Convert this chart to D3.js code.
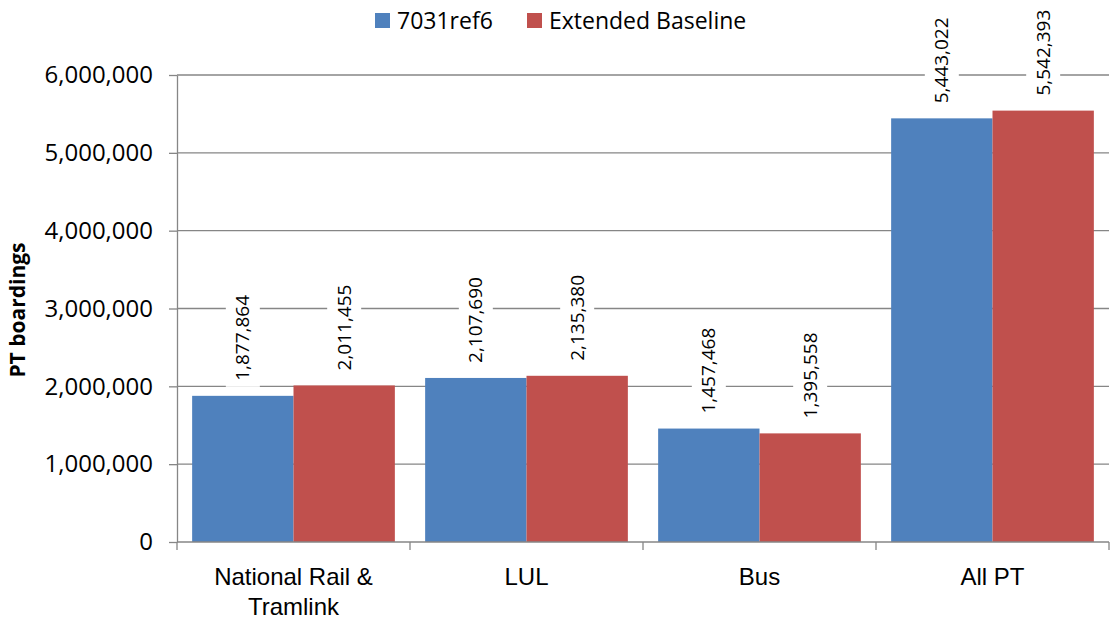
<!DOCTYPE html>
<html><head><meta charset="utf-8">
<script src="https://cdn.jsdelivr.net/npm/d3@7"></script>
<style>body{margin:0;background:#fff}svg{display:block;font-family:"Open Sans",sans-serif}</style>
</head><body><svg id="c" width="1111" height="622"></svg>
<script>
const categories = ["National Rail & Tramlink", "LUL", "Bus", "All PT"];
const categoryLines = [["National Rail &", "Tramlink"], ["LUL"], ["Bus"], ["All PT"]];
const seriesNames = ["7031ref6", "Extended Baseline"];
const ref6 = [1877864, 2107690, 1457468, 5443022];
const baseline = [2011455, 2135380, 1395558, 5542393];
const yTicks = [0, 1000000, 2000000, 3000000, 4000000, 5000000, 6000000];
const colors = ["#4F81BD", "#C0504D"];

const svg = d3.select("#c");
const L = 177, R = 1109, T = 75, B = 542;
const x = d3.scaleBand().domain(categories).range([L, R]).paddingInner(0.13).paddingOuter(0.065);
const x1 = d3.scaleBand().domain(seriesNames).range([0, x.bandwidth()]);
const y = d3.scaleLinear().domain([0, 6000000]).range([B, T]);
const fmt = d3.format(",");
const grid = "#868686";

// gridlines
svg.append("g").selectAll("line").data(yTicks.slice(1)).join("line")
  .attr("x1", L).attr("x2", R).attr("y1", d => y(d)).attr("y2", d => y(d))
  .attr("stroke", grid).attr("stroke-width", 1.3);

// bars
const series = [ref6, baseline];
const g = svg.append("g");
series.forEach((vals, si) => {
  g.selectAll(null).data(categories).join("rect")
    .attr("x", c => x(c) + x1(seriesNames[si]))
    .attr("width", x1.bandwidth())
    .attr("y", (c, i) => y(vals[i]))
    .attr("height", (c, i) => B - y(vals[i]))
    .attr("fill", colors[si]);
});

// y axis
const ya = svg.append("g").attr("transform", `translate(${L},0)`)
  .call(d3.axisLeft(y).tickValues(yTicks).tickFormat(fmt).tickSize(8).tickSizeOuter(0));
ya.select(".domain").attr("stroke", grid).attr("stroke-width", 1.3);
ya.selectAll(".tick line").attr("stroke", grid).attr("stroke-width", 1.3);
ya.selectAll("text").attr("font-size", 24).attr("font-family", "Open Sans").attr("fill", "#000").attr("x", -24);

// x axis
const xa = svg.append("g").attr("transform", `translate(0,${B})`)
  .call(d3.axisBottom(x).tickValues([]).tickSizeOuter(0));
xa.select(".domain").attr("stroke", grid).attr("stroke-width", 1.3).attr("d", `M${L},0H${R}`);
const bounds = [L].concat(categories.map(c => x(c) + x.bandwidth() + x.step() * x.paddingInner() / 2));
bounds[bounds.length - 1] = R;
xa.selectAll(".bt").data(bounds).join("line").attr("class", "bt")
  .attr("x1", d => d).attr("x2", d => d).attr("y1", 0).attr("y2", 8)
  .attr("stroke", grid).attr("stroke-width", 1.3);
categories.forEach((c, i) => {
  const t = xa.append("text").attr("text-anchor", "middle").attr("font-size", 24)
    .attr("fill", "#000").attr("x", x(c) + x.bandwidth() / 2);
  categoryLines[i].forEach((ln, k) => t.append("tspan").attr("x", x(c) + x.bandwidth() / 2).attr("y", 43 + k * 30).text(ln));
});

// data labels
series.forEach((vals, si) => {
  categories.forEach((c, i) => {
    const cx = x(c) + x1(seriesNames[si]) + x1.bandwidth() / 2;
    const by = y(vals[i]) - 15;
    const lg = svg.append("g").attr("transform", `translate(${cx},${by}) rotate(-90)`);
    const t = lg.append("text").attr("font-size", 19).attr("dy", "0.35em").attr("fill", "#000").text(fmt(vals[i]));
    const bb = t.node().getBBox();
    lg.insert("rect", "text").attr("x", bb.x - 6).attr("y", -17).attr("width", bb.width + 12).attr("height", 34).attr("fill", "#fff");
  });
});

// y title
svg.append("text").attr("transform", "translate(25,310) rotate(-90)").attr("text-anchor", "middle")
  .attr("font-size", 21).attr("font-weight", "bold").text("PT boardings");

// legend
const leg = svg.append("g");
const lx = [375, 527];
seriesNames.forEach((n, i) => {
  leg.append("rect").attr("x", lx[i]).attr("y", 13).attr("width", 15).attr("height", 15).attr("fill", colors[i]);
  leg.append("text").attr("x", lx[i] + 22).attr("y", 29).attr("font-size", 23).attr("fill", "#000").text(n);
});
</script></body></html>
